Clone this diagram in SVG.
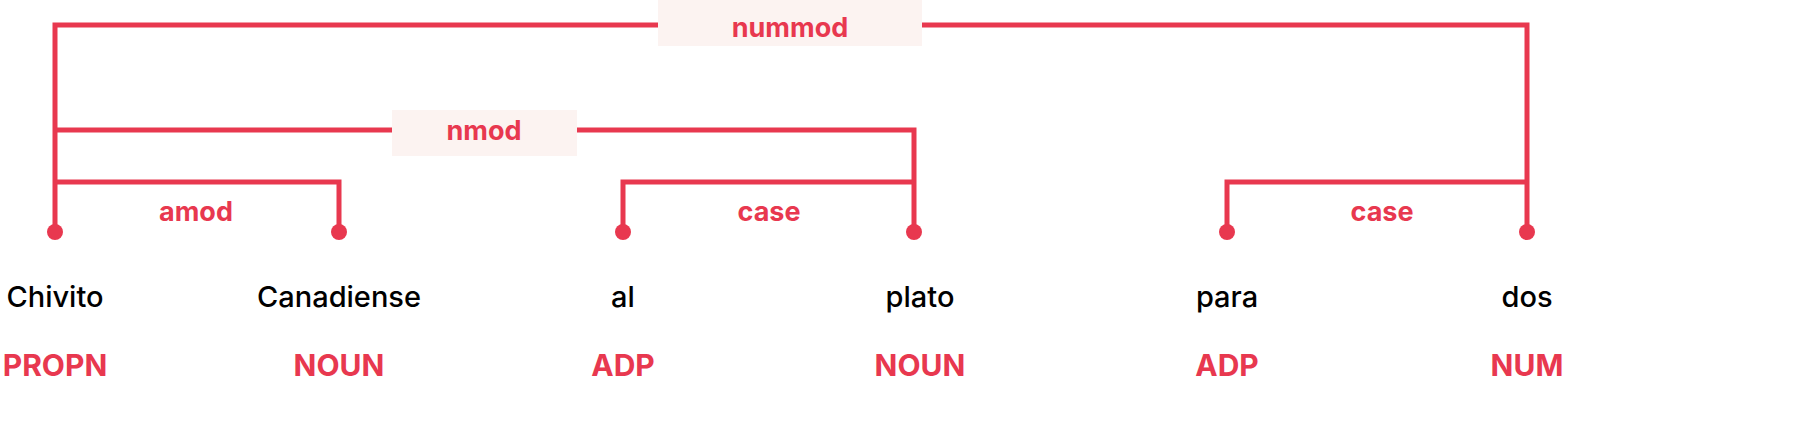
<svg xmlns="http://www.w3.org/2000/svg" width="1808" height="443" viewBox="0 0 1808 443">
<style>
.arc{fill:none;stroke:#e8384f;stroke-width:5}
.lab{font-family:Inter,"Liberation Sans",sans-serif;font-weight:bold;font-size:27px;fill:#e8384f;text-anchor:middle}
.word{font-family:Inter,"Liberation Sans",sans-serif;font-weight:500;font-size:29px;fill:#000;text-anchor:middle}
.pos{font-family:Inter,"Liberation Sans",sans-serif;font-weight:bold;font-size:30px;fill:#e8384f;text-anchor:middle}
.box{fill:#fcf3f1}
.dot{fill:#e8384f}
</style>
<rect width="1808" height="443" fill="#fff"/>
<g id="connectors">
<path class="arc" d="M55 232V25H1527V232"/>
<path class="arc" d="M55 130H914V232"/>
<path class="arc" d="M55 182H339V232"/>
<path class="arc" d="M914 182H623V232"/>
<path class="arc" d="M1527 182H1227V232"/>
<rect class="box" x="658" y="0" width="264" height="46"/>
<text class="lab" x="790" y="37">nummod</text>
<rect class="box" x="392" y="110" width="185" height="46"/>
<text class="lab" x="484" y="140">nmod</text>
<text class="lab" x="196" y="221">amod</text>
<text class="lab" x="769" y="221">case</text>
<text class="lab" x="1382" y="221">case</text>
<circle class="dot" cx="55" cy="232" r="8"/>
<circle class="dot" cx="339" cy="232" r="8"/>
<circle class="dot" cx="623" cy="232" r="8"/>
<circle class="dot" cx="914" cy="232" r="8"/>
<circle class="dot" cx="1227" cy="232" r="8"/>
<circle class="dot" cx="1527" cy="232" r="8"/>
</g>
<g id="w1"><text class="word" x="55" y="307">Chivito</text><text class="pos" x="55" y="376">PROPN</text></g>
<g id="w2"><text class="word" x="339" y="307">Canadiense</text><text class="pos" x="339" y="376">NOUN</text></g>
<g id="w3"><text class="word" x="623" y="307">al</text><text class="pos" x="623" y="376">ADP</text></g>
<g id="w4"><text class="word" x="920" y="307">plato</text><text class="pos" x="920" y="376">NOUN</text></g>
<g id="w5"><text class="word" x="1227" y="307">para</text><text class="pos" x="1227" y="376">ADP</text></g>
<g id="w6"><text class="word" x="1527" y="307">dos</text><text class="pos" x="1527" y="376">NUM</text></g>
</svg>
